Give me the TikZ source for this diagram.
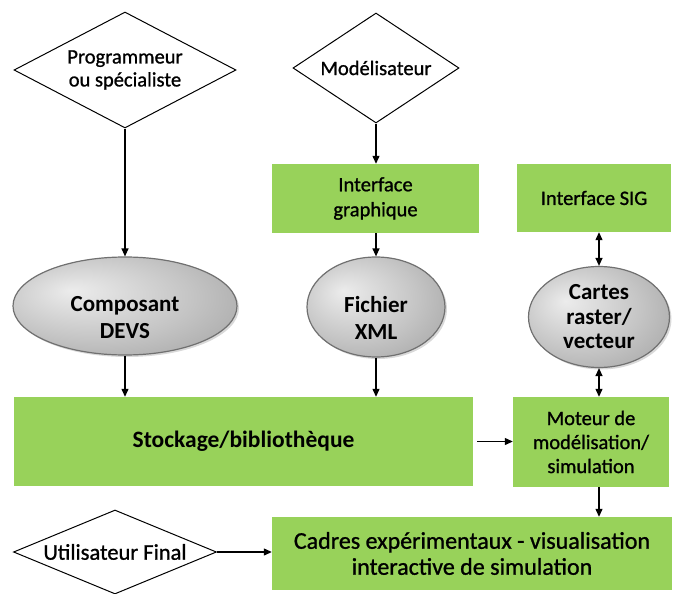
\documentclass[tikz,border=0pt]{standalone}
\usepackage{fontspec}
\setmainfont{Carlito}
% slightly heavier upright face for the plain labels
\newfontface\lblface{Carlito}[FakeBold=1]
\usetikzlibrary{shapes.geometric,arrows.meta,shadows}

\definecolor{boxgreen}{RGB}{152,210,90}
\definecolor{ellrim}{RGB}{112,112,112}
\definecolor{ellhi}{RGB}{236,236,236}
\definecolor{ellmid}{RGB}{196,196,196}
\definecolor{elllo}{RGB}{136,136,136}
% grey ball-like fill for the data ellipses, light spot up and to the left
\pgfdeclareradialshading{ellgray}{\pgfpoint{-12bp}{8bp}}{%
  color(0bp)=(ellhi); color(22bp)=(ellmid); color(52bp)=(elllo)}

\begin{document}
\begin{tikzpicture}[x=1pt,y=-1pt,
  actor/.style={diamond, draw=black, line width=1pt, inner sep=0pt,
    align=center, font=\lblface\fontsize{20.5}{23}\selectfont},
  gbox/.style={rectangle, fill=boxgreen, inner sep=0pt, align=center,
    font=\lblface\fontsize{20.5}{25}\selectfont},
  datum/.style={ellipse, draw=ellrim, line width=1.2pt, shading=ellgray,
    inner sep=0pt, align=center, font=\bfseries\fontsize{23}{27}\selectfont,
    drop shadow={shadow xshift=2pt, shadow yshift=-2pt, opacity=.3}},
  link/.style={-{Triangle[length=8pt,width=7pt]}, line width=1.2pt},
  both/.style={{Triangle[length=8pt,width=7pt]}-{Triangle[length=8pt,width=7pt]}, line width=1.2pt}]

\useasboundingbox (0,0) rectangle (675,594);

% actors
\node[actor, shape aspect=1.9, minimum width=222pt, minimum height=116pt] (prog) at (125,70) {Programmeur\\ou spécialiste};
\node[actor, shape aspect=1.5, minimum width=166pt, minimum height=110pt] (modl) at (376,68) {Modélisateur};
\node[actor, shape aspect=2.4, minimum width=203pt, minimum height=84pt,
  font=\lblface\fontsize{22.5}{25}\selectfont] (user) at (115,552) {Utilisateur Final};

% tools and engine
\node[gbox, minimum width=207pt, minimum height=69pt] (gui) at (375.5,198.5) {Interface\\graphique};
\node[gbox, minimum width=154pt, minimum height=68pt] (sig) at (594,198) {Interface SIG};
\node[gbox, minimum width=459pt, minimum height=89pt,
  font=\bfseries\fontsize{23.5}{28}\selectfont] (lib) at (243.5,441.5) {Stockage/bibliothèque};
\node[gbox, minimum width=156pt, minimum height=90pt,
  font=\lblface\fontsize{20.5}{24}\selectfont] (eng) at (591,442) {Moteur de\\modélisation/\\simulation};
\node[gbox, minimum width=400pt, minimum height=73pt,
  font=\lblface\fontsize{24}{26}\selectfont] (xp) at (472,553.5) {Cadres expérimentaux - visualisation\\interactive de simulation};

% data (the two-line labels sit a little below the middle)
\node[datum, minimum width=224pt, minimum height=98pt] (devs) at (125,306) {\rule{0pt}{38pt}Composant\\DEVS};
\node[datum, minimum width=138pt, minimum height=100pt] (xml) at (376,307) {\rule{0pt}{38pt}Fichier\\XML};
\node[datum, minimum width=141pt, minimum height=101pt,
  font=\bfseries\fontsize{23}{24.5}\selectfont] (maps) at (599,317) {Cartes\\raster/\\vecteur};

% flows
\draw[link] (prog.south) -- (prog.south |- devs.north);
\draw[link] (modl.south) -- (modl.south |- gui.north);
\draw[link] (xml.north |- gui.south) -- (xml.north);
\draw[link] (devs.south) -- (devs.south |- lib.north);
\draw[link] (xml.south) -- (xml.south |- lib.north);
\draw[both] (maps.north |- sig.south) -- (maps.north);
\draw[both] (maps.south) -- (maps.south |- eng.north);
\draw[link] ([xshift=4pt]lib.east) -- (lib.east -| eng.west);
\draw[link] (maps.south |- eng.south) -- (maps.south |- xp.north);
\draw[link] (user.east) -- (user.east -| xp.west);
\end{tikzpicture}
\end{document}
